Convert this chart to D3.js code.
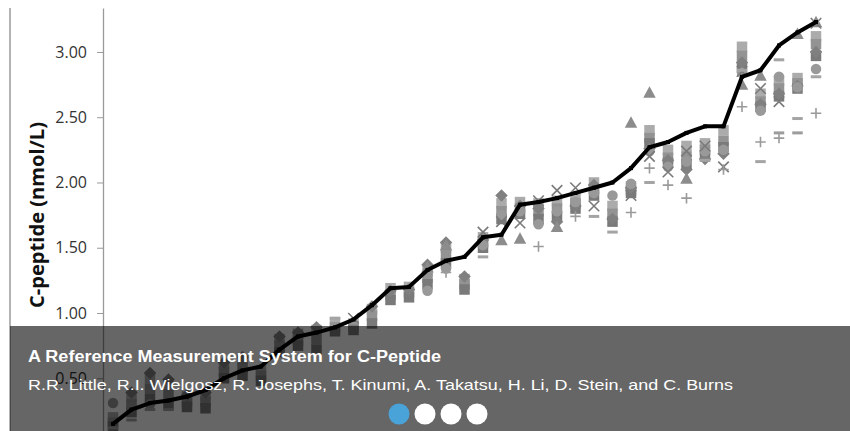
<!DOCTYPE html>
<html><head><meta charset="utf-8">
<script src="https://cdn.jsdelivr.net/npm/d3@7"></script>
<style>
html,body{margin:0;padding:0;background:#fff;overflow:hidden;}
svg{display:block;}
</style></head>
<body>
<svg id="chart" width="850" height="431"></svg>
<script>
// ---- data ----
const samples = d3.range(1, 40); // 39 serum samples
const reference = [0.15,0.26,0.31,0.33,0.36,0.41,0.50,0.56,0.59,0.72,0.82,0.85,0.89,0.95,1.06,1.19,1.20,1.33,1.40,1.43,1.58,1.60,1.83,1.85,1.88,1.92,1.96,2.00,2.11,2.27,2.31,2.38,2.43,2.43,2.81,2.86,3.05,3.15,3.23];
const labA = [0.20,0.36,0.50,0.46,0.36,0.37,0.60,0.64,0.56,0.80,0.84,0.87,0.93,0.92,1.03,1.19,1.20,1.32,1.50,1.26,1.58,1.84,1.85,1.84,1.86,1.88,2.00,1.82,1.97,2.40,2.25,2.28,2.30,2.40,3.04,2.68,2.78,2.80,3.12];
const labB = [0.16,0.30,0.42,0.38,0.32,0.32,0.55,0.58,0.52,0.75,0.79,0.80,0.89,0.90,0.98,1.14,1.16,1.27,1.44,1.22,1.54,1.78,1.80,1.78,1.80,1.84,1.95,1.76,1.94,2.34,2.19,2.20,2.25,2.32,2.97,2.62,2.72,2.76,3.06];
const labC = [0.13,0.24,0.34,0.30,0.28,0.27,0.50,0.52,0.48,0.70,0.75,0.72,0.86,0.87,0.92,1.10,1.12,1.22,1.38,1.18,1.50,1.72,1.76,1.72,1.74,1.80,1.90,1.70,1.92,2.30,2.15,2.14,2.20,2.27,2.88,2.58,2.66,2.72,2.97];
const labD = [null,0.39,0.54,0.49,0.37,0.39,0.62,0.66,null,0.82,0.85,0.89,null,null,1.05,1.17,1.18,1.37,1.54,1.28,1.56,1.90,1.82,1.80,1.70,1.82,1.98,1.72,1.96,2.26,2.17,2.10,2.18,2.22,2.92,2.60,2.68,2.74,3.00];
const labE = [null,null,null,null,null,null,null,null,null,null,null,null,null,null,null,null,null,1.35,1.52,null,null,1.56,1.57,null,1.66,null,null,null,2.46,2.69,null,2.03,null,null,2.75,2.82,null,3.14,3.23];
const labF = [0.31,0.28,0.30,null,null,null,null,null,null,null,null,null,null,null,null,null,null,1.17,1.34,null,1.52,1.75,1.78,1.68,1.78,1.85,1.92,1.90,1.99,2.24,2.12,2.16,2.24,2.25,2.84,2.55,2.81,2.73,2.87];
const labG = [null,null,null,null,null,null,null,null,null,null,null,null,null,0.96,null,null,null,null,null,null,1.62,1.70,1.69,1.86,1.94,1.96,1.82,null,1.90,2.20,2.08,2.24,2.28,2.12,2.85,2.72,2.62,null,3.22];
const labH = [null,null,null,null,null,null,null,null,null,null,null,null,null,null,null,null,null,null,1.31,null,null,null,null,1.51,null,1.74,null,null,1.77,2.11,1.98,1.88,null,2.10,2.58,2.31,2.34,null,2.53];
const labI = [0.12,0.18,0.26,0.26,null,null,null,null,null,null,null,null,0.96,null,null,null,null,null,null,null,1.43,null,null,null,null,null,1.74,1.62,null,2.00,null,null,2.17,null,2.86,2.16,2.94,2.49,2.81];
const labJ = [null,null,null,null,null,null,null,null,null,null,null,null,null,null,null,null,null,null,null,null,null,null,null,null,null,null,null,null,null,null,null,null,null,null,null,null,2.38,2.38,null];
const yTicks = [0.5,1.0,1.5,2.0,2.5,3.0];
const yTitle = "C-peptide (nmol/L)";
const slideTitle = "A Reference Measurement System for C-Peptide";
const slideAuthors = "R.R. Little, R.I. Wielgosz, R. Josephs, T. Kinumi, A. Takatsu, H. Li, D. Stein, and C. Burns";
const slides = [0,1,2,3];

// ---- drawing ----
const svg = d3.select("#chart");
const x = d3.scaleLinear().domain([1, 39]).range([113, 816]);
const y = d3.scaleLinear().domain([0, 3.337]).range([443.5, 8]);

// outer frame line
svg.append("line").attr("x1",10).attr("x2",10).attr("y1",8).attr("y2",431)
  .attr("stroke","#9a9a9a").attr("stroke-width",1.5);

// y axis
const ax = svg.append("g").attr("transform","translate(103,0)")
  .call(d3.axisLeft(y).tickValues(yTicks).tickFormat(d3.format(".2f")).tickSize(6).tickSizeOuter(0).tickPadding(10));
ax.select(".domain").attr("stroke","#9a9a9a").attr("stroke-width",1.3);
ax.selectAll(".tick line").attr("stroke","#9a9a9a");
ax.selectAll(".tick text").attr("fill","#333").style("font-family","'Open Sans', sans-serif").style("font-size","16px");

svg.append("text").attr("transform","translate(44,215) rotate(-90)")
  .attr("text-anchor","middle")
  .style("font-family","'Open Sans', sans-serif").style("font-weight","bold").style("font-size","19px")
  .attr("textLength",186).attr("lengthAdjust","spacingAndGlyphs")
  .attr("fill","#111").text(yTitle);

const plot = svg.append("g");

function shapePath(type, s){
  const h = s/2;
  switch(type){
    case "square": return `M${-h},${-h}H${h}V${h}H${-h}Z`;
    case "diamond": return `M0,${-h-1}L${h+1},0L0,${h+1}L${-h-1},0Z`;
    case "triangle": return `M0,${-h-1}L${h+1},${h}L${-h-1},${h}Z`;
    case "circle": return d3.symbol(d3.symbolCircle, Math.PI*h*h)();
    case "x": return `M${-h},${-h}L${h},${h}M${-h},${h}L${h},${-h}`;
    case "plus": return `M${-h},0H${h}M0,${-h}V${h}`;
    case "dash": return `M${-h},-1.5H${h}V1.5H${-h}Z`;
  }
}
const series = [
  {vals: labA, type:"square", fill:"#ababab"},
  {vals: labB, type:"square", fill:"#939393"},
  {vals: labC, type:"square", fill:"#7a7a7a"},
  {vals: labD, type:"diamond", fill:"#808080"},
  {vals: labE, type:"triangle", fill:"#8c8c8c"},
  {vals: labF, type:"circle", fill:"#999999"},
  {vals: labG, type:"x", stroke:"#7a7a7a"},
  {vals: labH, type:"plus", stroke:"#9a9a9a"},
  {vals: labI, type:"dash", fill:"#a4a4a4"},
  {vals: labJ, type:"dash", fill:"#9c9c9c"}
];
series.forEach(s => {
  const pts = samples.map((d,i)=>({i:d, v:s.vals[i]})).filter(p=>p.v!=null);
  plot.append("g").selectAll("path").data(pts).join("path")
    .attr("transform", p=>`translate(${x(p.i)},${y(p.v)})`)
    .attr("d", shapePath(s.type, 10.5))
    .attr("fill", s.fill || "none")
    .attr("stroke", s.stroke || "none")
    .attr("stroke-width", s.stroke ? 1.6 : 0);
});

// reference line
const refPts = samples.map((d,i)=>({i:d, v:reference[i]}));
plot.append("path").datum(refPts)
  .attr("d", d3.line().x(p=>x(p.i)).y(p=>y(p.v)))
  .attr("fill","none").attr("stroke","#000").attr("stroke-width",4).attr("stroke-linejoin","round");
plot.append("g").selectAll("rect").data(refPts).join("rect")
  .attr("x",p=>x(p.i)-2).attr("y",p=>y(p.v)-2).attr("width",4).attr("height",4).attr("fill","#000");

// caption overlay
svg.append("rect").attr("x",10).attr("y",326).attr("width",840).attr("height",105)
  .attr("fill","rgba(0,0,0,0.6)");
svg.append("text").attr("x",28).attr("y",362).attr("fill","#fff")
  .style("font-family","'Liberation Sans', Arial, sans-serif").style("font-weight","bold").style("font-size","16px")
  .attr("textLength",413).attr("lengthAdjust","spacingAndGlyphs").text(slideTitle);
svg.append("text").attr("x",28).attr("y",390).attr("fill","#fff")
  .style("font-family","'Liberation Sans', Arial, sans-serif").style("font-size","15px")
  .attr("textLength",705).attr("lengthAdjust","spacingAndGlyphs").text(slideAuthors);
svg.append("g").selectAll("circle").data(slides).join("circle")
  .attr("cx", d=>399 + d*26).attr("cy",414).attr("r",10.5)
  .attr("fill", d=> d===0 ? "#4aa3d8" : "#ffffff");
</script>
</body></html>
